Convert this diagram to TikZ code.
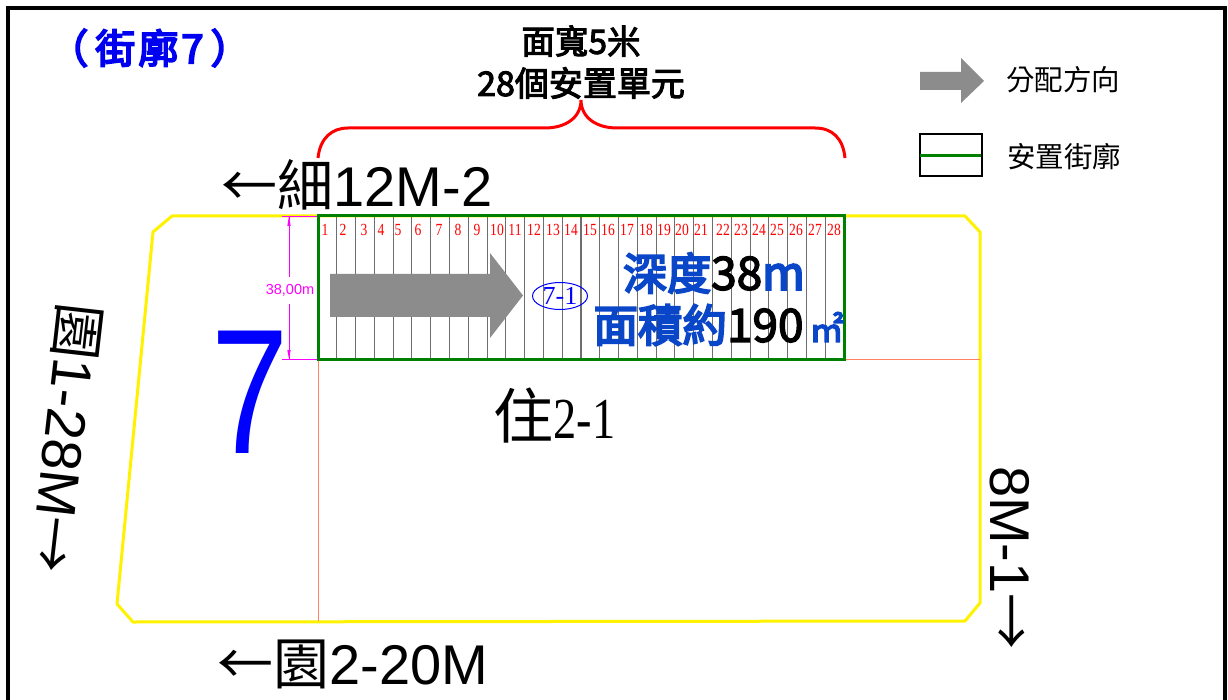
\documentclass[tikz,border=0pt]{standalone}
\usepackage{fontspec}
\usepackage{graphicx}
\usetikzlibrary{shapes.geometric}
\setmainfont{Liberation Sans}
\newfontfamily\tc{Noto Sans CJK TC}
\newfontfamily\tcm[FakeBold=3]{Noto Sans CJK TC}
\newfontfamily\tcb[FakeBold=4.5]{Noto Sans CJK TC}
\newfontfamily\serif{Liberation Serif}
\newcommand{\fs}[1]{\fontsize{#1}{#1}\selectfont}
\definecolor{zonegreen}{RGB}{0,128,0}
\definecolor{titleblue}{RGB}{0,0,240}
\definecolor{textblue}{RGB}{10,70,200}
\definecolor{arrowgrey}{RGB}{140,140,140}
\definecolor{lotline}{RGB}{110,110,110}
\definecolor{parcel}{RGB}{255,130,100}
\definecolor{dimmag}{RGB}{255,0,255}
\tikzset{
  lbl/.style={inner sep=0pt,outer sep=0pt,anchor=center},
  blockline/.style={yellow,line width=3pt},
  parcelline/.style={parcel,line width=1pt},
  dimline/.style={dimmag,line width=0.8pt},
  lotdiv/.style={lotline,line width=1.1pt},
  greyarrow/.style={fill=arrowgrey,draw=none},
  bracket/.style={red,line width=3pt},
}
\begin{document}
\begin{tikzpicture}[x=1pt,y=-1pt]
\useasboundingbox (0,0) rectangle (1228,700);
\fill[white] (0,0) rectangle (1228,700);
% frame
\draw[black,line width=4pt] (8,700) -- (8,8) -- (1225,8) -- (1225,700);
% block outline
\draw[blockline,line join=round] (153,232) -- (172,216) -- (965,216) -- (980,232) -- (980,603) -- (965,621) -- (133,622) -- (117,604) -- cycle;
% parcel lines
\draw[parcelline] (318,359) -- (318,621);
\draw[parcelline] (318,359) -- (980,359);
% dimension
\draw[dimline] (282,216) -- (318,216);
\draw[dimline] (282,359) -- (318,359);
\draw[dimline] (289,216) -- (289,277);
\draw[dimline] (289,304) -- (289,359);
\fill[dimmag] (289,216) -- (287.3,226) -- (290.7,226) -- cycle;
\fill[dimmag] (289,359) -- (287.3,350) -- (290.7,350) -- cycle;
\node[lbl,text=dimmag] (dimtext) at (290,290) {\fs{14.5}38,00m};
% lot dividers
\foreach \i in {1,...,27} \draw[lotdiv] ({318+\i*18.786},216) -- ({318+\i*18.786},359);
% grey arrow
\fill[greyarrow] (330,274) -- (490,274) -- (490,253) -- (523,295.5) -- (490,338) -- (490,317) -- (330,317) -- cycle;
% lot numbers
\foreach \n/\x in {1/325,2/343,3/364,4/381,5/398,6/418,7/439,8/458,9/477,10/497,11/515,12/534,13/553,14/571,15/590,16/608,17/627,18/646,19/664,20/682,21/701,22/723,23/741,24/759,25/777,26/796,27/815,28/834}
  \node[lbl,text=red,xscale=.8] (num\n) at (\x,230) {\serif\fs{17}\n};
% settlement block
\draw[zonegreen,line width=3pt] (318,216) rectangle (844,359);
% ellipse
\node[draw=blue,line width=1pt,ellipse,minimum width=55pt,minimum height=27pt,inner sep=0pt,text=blue] (tag) at (560,296) {\serif\fs{26}7-1};
% big 7
\node[lbl,text=blue,xscale=.78] (bignum) at (250,392) {\fs{178}7};
% texts
\node[lbl,text=titleblue] (title) at (149.5,48) {\fs{40}\tcb（\hspace{7pt}街\hspace{3pt}廓\hspace{3pt}7\hspace{7pt}）};
\node[lbl] (top1) at (581,41) {\fs{33.5}\tcm 面寬5米};
\node[lbl] (top2) at (581,83) {\fs{34}\tcm 28個安置單元};
\node[lbl] (north) at (357,185) {\fs{56}{\tc ←細}12M-2};
\node[lbl] (south) at (353,664) {\fs{56}{\tc ←園}2-20M};
\node[lbl,rotate=-96.5] (west) at (65,438) {\fs{56}{\tc 園}1-28M{\tc →}};
\node[lbl,rotate=-90] (east) at (1010,558) {\fs{56}8M-1{\tc →}};
\node[lbl] (zone) at (554.5,416) {\fs{60}{\tc 住}{\serif\fs{58}\scalebox{.8}[1]{2-1}}};
\node[lbl,text=textblue] (depth) at (714,273) {{\fs{44}\tcb 深度}{\fs{46}\tcm\color{black}38}{\fs{46}\tcb m}};
\node[lbl,text=textblue] (area) at (718.5,325) {{\fs{44.5}\tcb 面積約}{\fs{46}\tcm\color{black}190}\hspace{6pt}{\fs{34}\tcb ㎡}};
% bracket
\draw[bracket] (318,158) .. controls (320,138) and (332,128) .. (348,128) -- (545,128) .. controls (565,128) and (581,118) .. (581,100) .. controls (581,118) and (597,128) .. (617,128) -- (815,128) .. controls (832,128) and (843,138) .. (845,158);
% legend
\fill[greyarrow] (920,72) -- (961,72) -- (961,58) -- (984,81) -- (961,103) -- (961,90) -- (920,90) -- cycle;
\node[lbl] (leg1) at (1063,80) {\fs{28.5}\tc 分配方向};
\draw[black,line width=2pt] (919.5,134) rectangle (982,176);
\draw[zonegreen,line width=3.5pt] (920,155.5) -- (981,155.5);
\node[lbl] (leg2) at (1064,157) {\fs{28.5}\tc 安置街廓};
\end{tikzpicture}
\end{document}
